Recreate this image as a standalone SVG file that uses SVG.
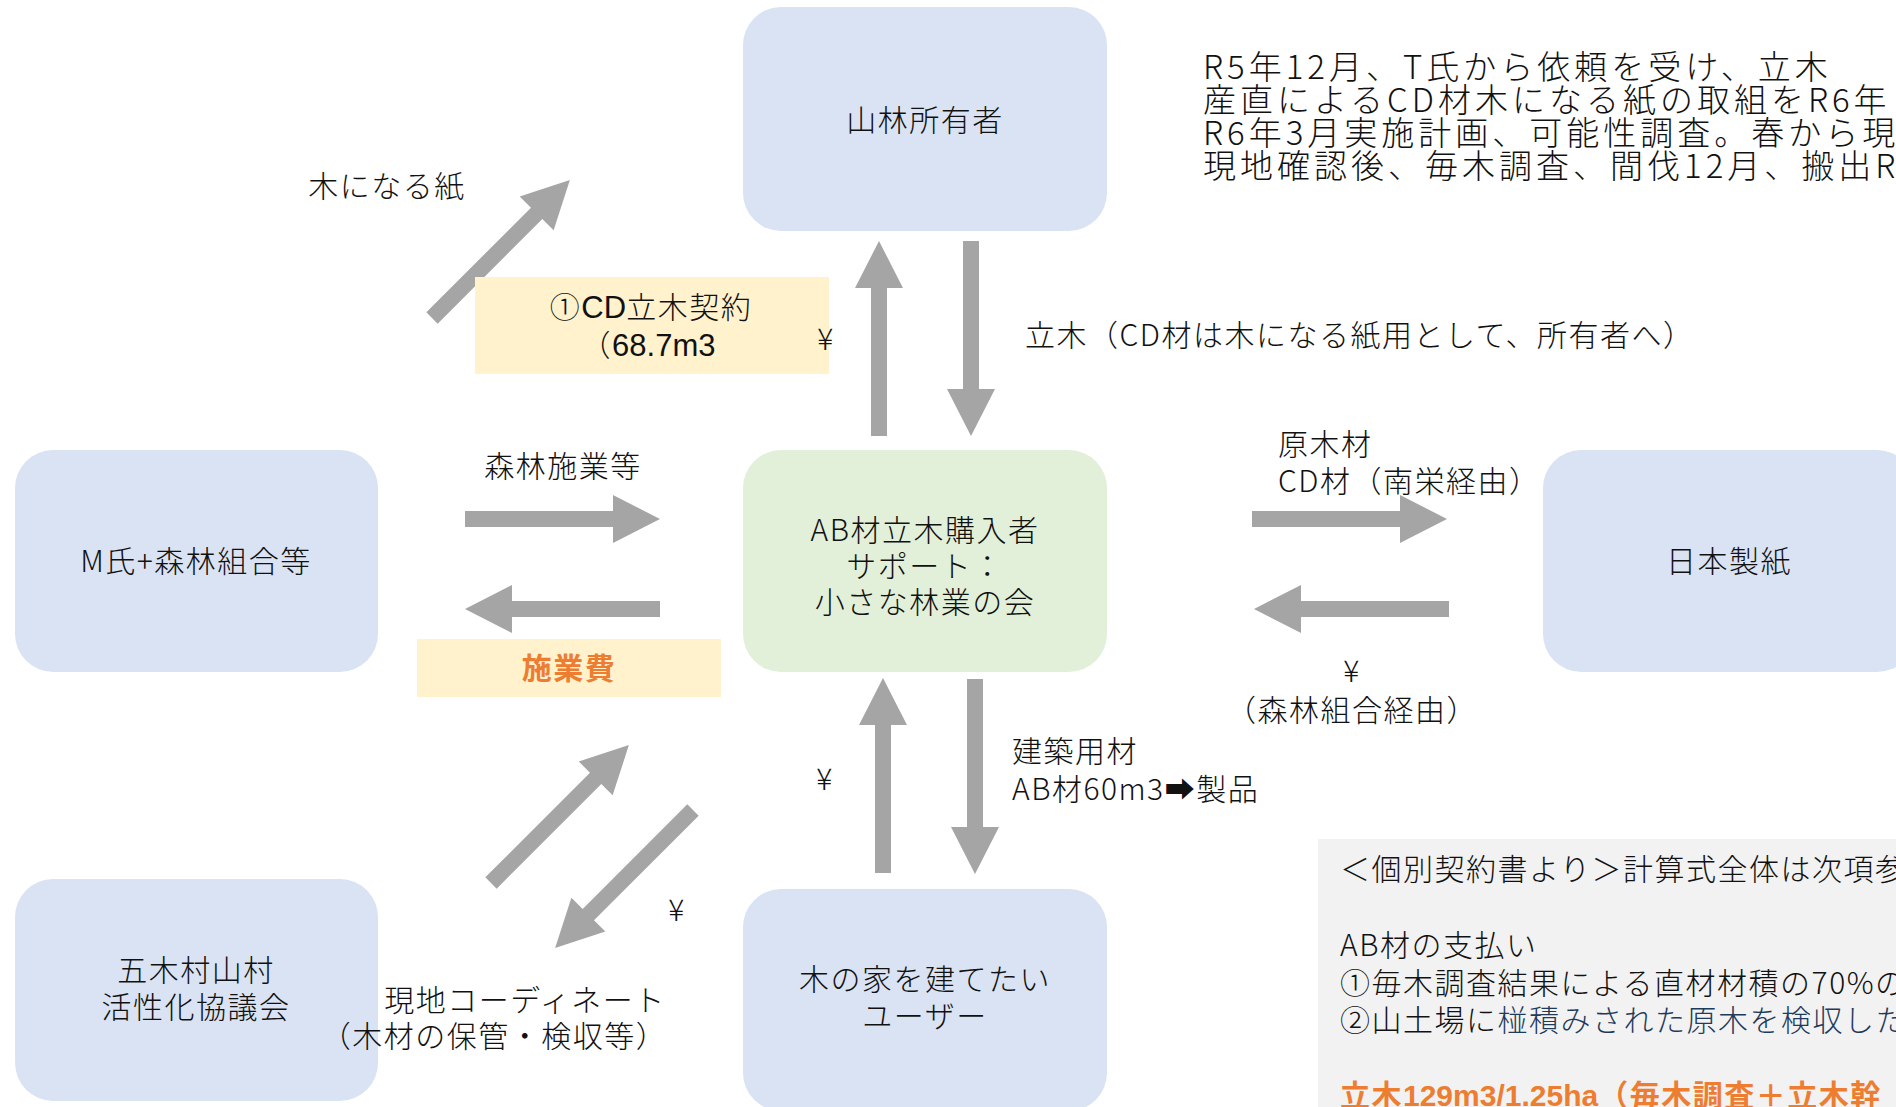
<svg xmlns="http://www.w3.org/2000/svg" xmlns:xlink="http://www.w3.org/1999/xlink" width="1896" height="1107" viewBox="0 0 1896 1107">
<defs>
<style>
.t{font-family:"Noto Sans CJK JP","Noto Sans",sans-serif;font-size:30px;font-weight:300;letter-spacing:1.5px;fill:#111;}
.m{text-anchor:middle;}
.blue{fill:#DAE3F3;}
.green{fill:#E2F0D9;}
.yel{fill:#FFF2CC;}
.arr{fill:#A5A5A5;}
.lat{font-family:"Liberation Sans",Arial,sans-serif;font-size:31px;font-weight:normal;letter-spacing:0;}
.latb{font-family:"Liberation Sans",Arial,sans-serif;font-size:30px;font-weight:bold;letter-spacing:0;}
.or{fill:#ED7D31;font-weight:bold;}
.big{font-size:33px;letter-spacing:4px;}
</style>
<path id="arrow" d="M0,-8 H148 V-24 L195,0 L148,24 V8 H0 Z"/>
</defs>
<rect width="1896" height="1107" fill="#FFFFFF"/>

<g id="notes">
<text class="t big" x="1203" y="79">R5年12月、T氏から依頼を受け、立木</text>
<text class="t big" x="1203" y="112">産直によるCD材木になる紙の取組をR6年</text>
<text class="t big" x="1203" y="145">R6年3月実施計画、可能性調査。春から現</text>
<text class="t big" x="1203" y="178">現地確認後、毎木調査、間伐12月、搬出R</text>
</g>

<g id="node-owner">
<rect class="blue" x="743" y="7" width="364" height="224" rx="38"/>
<text class="t m" x="925" y="131">山林所有者</text>
</g>
<g id="node-buyer">
<rect class="green" x="743" y="450" width="364" height="222" rx="38"/>
<text class="t m" x="925" y="541">AB材立木購入者</text>
<text class="t m" x="925" y="577">サポート：</text>
<text class="t m" x="925" y="613">小さな林業の会</text>
</g>
<g id="node-m">
<rect class="blue" x="15" y="450" width="363" height="222" rx="38"/>
<text class="t m" x="196" y="572">M氏+森林組合等</text>
</g>
<g id="node-paper">
<rect class="blue" x="1543" y="450" width="372" height="222" rx="38"/>
<text class="t m" x="1729" y="572">日本製紙</text>
</g>
<g id="node-itsuki">
<rect class="blue" x="15" y="879" width="363" height="222" rx="38"/>
<text class="t m" x="196" y="981">五木村山村</text>
<text class="t m" x="196" y="1018">活性化協議会</text>
</g>
<g id="node-user">
<rect class="blue" x="743" y="889" width="364" height="222" rx="38"/>
<text class="t m" x="925" y="990">木の家を建てたい</text>
<text class="t m" x="925" y="1027">ユーザー</text>
</g>

<g id="connectors" class="arr">
<use xlink:href="#arrow" href="#arrow" transform="translate(432,318) rotate(-45)"/>
<use xlink:href="#arrow" href="#arrow" transform="translate(879,436) rotate(-90)"/>
<use xlink:href="#arrow" href="#arrow" transform="translate(971,241) rotate(90)"/>
<use xlink:href="#arrow" href="#arrow" transform="translate(465,519)"/>
<use xlink:href="#arrow" href="#arrow" transform="translate(660,609) rotate(180)"/>
<use xlink:href="#arrow" href="#arrow" transform="translate(1252,519)"/>
<use xlink:href="#arrow" href="#arrow" transform="translate(1449,609) rotate(180)"/>
<use xlink:href="#arrow" href="#arrow" transform="translate(883,873) rotate(-90)"/>
<use xlink:href="#arrow" href="#arrow" transform="translate(975,679) rotate(90)"/>
<use xlink:href="#arrow" href="#arrow" transform="translate(491,883) rotate(-45)"/>
<use xlink:href="#arrow" href="#arrow" transform="translate(693,810) rotate(135)"/>
</g>

<g id="labels">
<text class="t m" x="387" y="197">木になる紙</text>
<rect class="yel" x="475" y="277" width="354" height="97"/>
<text class="t m" x="651" y="318">①<tspan class="lat">CD</tspan>立木契約</text>
<text class="t m" x="648" y="356">（<tspan class="lat">68.7m3</tspan></text>
<text class="t m" x="826" y="350">¥</text>
<text class="t" x="1025" y="346">立木（CD材は木になる紙用として、所有者へ）</text>
<text class="t m" x="563" y="477">森林施業等</text>
<rect class="yel" x="417" y="639" width="304" height="58"/>
<text class="t m or" x="569" y="679">施業費</text>
<text class="t" x="1278" y="455">原木材</text>
<text class="t" x="1278" y="492">CD材（南栄経由）</text>
<text class="t m" x="1352" y="682">¥</text>
<text class="t m" x="1352" y="721">（森林組合経由）</text>
<text class="t" x="1012" y="762">建築用材</text>
<text class="t" x="1012" y="800">AB材60m3➡製品</text>
<text class="t m" x="825" y="790">¥</text>
<text class="t m" x="677" y="921">¥</text>
<text class="t m" x="525" y="1011">現地コーディネート</text>
<text class="t m" x="494" y="1047">（木材の保管・検収等）</text>
</g>

<g id="contract-note">
<rect x="1318" y="839" width="600" height="300" fill="#F2F2F2"/>
<text class="t" x="1340" y="880">＜個別契約書より＞計算式全体は次項参</text>
<text class="t" x="1340" y="956">AB材の支払い</text>
<text class="t" x="1340" y="994">①毎木調査結果による直材材積の70%の</text>
<text class="t" x="1340" y="1031">②山土場に<tspan fill="#1F3B5C">椪積みされた原木を検収した</tspan></text>
<text class="t or" x="1340" y="1106">立木<tspan class="latb">129m3/1.25ha</tspan>（毎木調査＋立木幹</text>
</g>
</svg>
